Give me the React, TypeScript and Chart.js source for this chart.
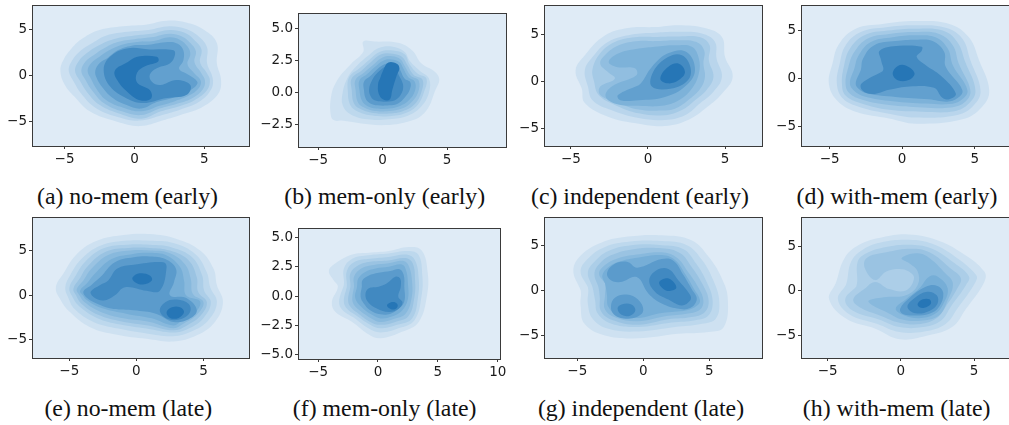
import React, { useEffect, useRef } from "react";
import { Chart, registerables } from "chart.js";
Chart.register(...registerables);

// Contour outlines: flat lists x,y,x,y,... in data units, outermost level first.
const aContours = [
  [-5.3,0.5,-5.1,1.6,-4.5,2.9,-3.7,4.0,-2.5,4.9,-0.8,5.3,0.9,5.5,2.3,5.9,3.7,5.7,5,4.9,5.9,3.5,5.9,1.3,6.2,-0.5,6,-2,4.9,-3.4,3.5,-4.2,2,-4.9,0.4,-5.5,-1.3,-5,-3.2,-3.9,-4.3,-2.3,-5,-1],
  [-4.7,0.5,-4.5,1.5,-3.9,2.6,-3,3.5,-2,4.3,-0.5,4.7,1,4.9,2.5,5.3,3.7,5.0,4.6,4.2,5.2,3,5.2,1.3,5.6,-0.3,5.5,-1.5,4.6,-2.9,3.3,-3.7,2,-4.3,0.4,-4.9,-1.2,-4.5,-2.8,-3.5,-3.8,-2,-4.3,-0.8],
  [-4.25,0.5,-4.0,1.5,-3.4,2.4,-2.6,3.2,-1.5,3.9,0,4.3,1.2,4.5,2.5,4.9,3.6,4.6,4.3,3.8,4.8,2.8,4.7,1.4,5.2,0.2,5.4,-0.5,5.2,-1.6,4.3,-2.7,3.1,-3.4,1.9,-3.9,0.5,-4.7,-1.0,-4.2,-2.5,-3.2,-3.4,-1.8,-3.9,-0.6],
  [-3.8,0.5,-3.5,1.5,-2.9,2.2,-2.2,2.9,-1.2,3.6,0,3.9,1.2,4.1,2.5,4.5,3.4,4.2,4.0,3.5,4.4,2.6,4.3,1.4,4.8,0.2,5.05,-0.6,4.9,-1.5,4.1,-2.5,3,-3.1,1.8,-3.6,0.5,-4.3,-0.9,-3.9,-2.2,-3,-3,-1.7,-3.5,-0.5],
  [-3.35,0.5,-3.1,1.3,-2.5,2.0,-1.8,2.7,-0.9,3.3,0.2,3.6,1.4,3.7,2.5,4.1,3.3,3.8,3.8,3.1,4.0,2.3,3.8,1.2,4.3,0.2,4.75,-0.6,4.6,-1.4,3.9,-2.2,2.9,-2.8,1.8,-3.3,0.5,-3.9,-0.8,-3.5,-2,-2.7,-2.7,-1.5,-3.1,-0.4],
  [-2.8,0.5,-2.5,1.3,-1.9,1.9,-1.2,2.7,-0.2,3.2,1,3.3,2.4,3.6,3.1,3.4,3.5,2.7,3.5,1.6,3.2,0.7,3.8,0.1,4.5,-0.7,4.3,-1.3,3.5,-2,2.6,-2.5,1.6,-2.9,0.5,-3.6,-0.6,-3.2,-1.6,-2.4,-2.3,-1.3,-2.7,-0.3],
  [-2.2,0.6,-1.75,2.0,-0.55,2.9,1.1,2.8,2.8,2.7,2.9,2.2,2.55,1.3,1.6,0.75,1.1,0.05,1.25,-0.7,1.85,-1.05,3.0,-0.5,4.0,-1.05,3.75,-2.1,2.1,-2.5,0.65,-3.0,-0.55,-2.5,-1.75,-1.2],
  [-1.4,0.5,-0.5,1.4,0.2,2,1.6,2,1.7,1.5,0.8,1,0.2,0.3,0.2,-0.8,1.1,-1.6,1.2,-2.5,0.4,-2.7,-0.5,-1.8,-1.2,-0.6],
];
const aLevels = [1,2,3,4,5,6,7,8];

const bContours = [
  [-4.0,-0.3,-4.0,-1.9,-3.7,-2.2,-3.2,-2.2,-0.1,-2.56,2.26,-2.2,3.4,-1.4,4.1,0.2,4.4,1.0,4.1,1.6,3.0,2.3,2.3,3.3,1.2,3.9,-0.6,4.0,-1.5,4.0,-1.5,3.2,-2.4,2.3,-3.5,1.0],
  [-3.1,0.0,-3.1,-1.0,-2.5,-1.7,-1.2,-2.1,0.5,-2.1,2,-1.8,3,-1.1,3.6,0.0,3.6,1.1,2.9,1.7,2.1,2.5,1.7,3.2,0.8,3.6,-0.3,3.5,-1.1,2.9,-2,2.1,-2.7,1.2],
  [-2.7,0.1,-2.5,-1.0,-1.9,-1.5,-0.8,-1.8,0.5,-1.85,1.8,-1.6,2.7,-1.0,3.2,0,3.4,1.1,2.7,1.5,2.1,2.2,1.7,3.0,0.8,3.3,-0.2,3.2,-1,2.6,-1.8,1.9,-2.6,1.2],
  [-2.4,0.2,-2.2,-0.9,-1.6,-1.35,-0.7,-1.6,0.5,-1.65,1.6,-1.45,2.5,-0.9,3.0,0,3.1,1.0,2.4,1.4,1.9,2.2,1.5,2.8,0.8,3.05,-0.1,3,-0.9,2.4,-1.6,1.75,-2.4,1.1],
  [-2.1,0.2,-1.9,-0.8,-1.4,-1.2,-0.6,-1.45,0.5,-1.45,1.5,-1.25,2.2,-0.8,2.75,0,2.8,0.95,2.2,1.3,1.7,2.1,1.4,2.6,0.75,2.85,0,2.75,-0.7,2.2,-1.4,1.6,-2.1,1],
  [-1.8,0.2,-1.6,-0.65,-1.2,-1.05,-0.5,-1.25,0.5,-1.25,1.35,-1.05,2,-0.65,2.5,0.1,2.5,0.85,2,1.2,1.6,1.9,1.3,2.4,0.7,2.6,0.05,2.5,-0.6,2,-1.2,1.45,-1.8,0.95],
  [-1.45,0.2,-1.3,-0.5,-0.95,-0.85,-0.4,-1,0.5,-1,1.2,-0.85,1.7,-0.4,2.1,0.2,2.15,0.8,1.7,1.1,1.4,1.7,1.15,2.15,0.65,2.3,0.1,2.2,-0.5,1.75,-1,1.25,-1.45,0.85],
  [-1.05,0.25,-0.9,-0.35,-0.5,-0.65,0.5,-0.7,1.05,-0.55,1.45,-0.1,1.6,0.5,1.45,1,1.2,1.5,1.1,2.05,0.65,2.2,0.2,2.05,-0.4,1.55,-0.8,1],
  [-0.35,0.7,-0.3,-0.1,0.05,-0.55,0.55,-0.55,0.75,0.2,1.1,1.35,1.3,1.9,1.1,2.25,0.45,2.35,0.05,1.75,-0.2,1.1],
];
const bLevels = [1,2,3,4,5,6,7,8,9];

const cContours = [
  [-4.7,1.2,-4.1,2.8,-2.8,4.9,-1.3,5.7,0.45,5.8,2.0,6.0,3.7,5.7,4.8,4.75,5.0,2.6,5.5,0.5,4.8,-1.3,3.7,-2.9,2.6,-4.1,1.1,-4.75,-0.6,-4.5,-2.6,-3.75,-4.1,-2.3,-4.3,-0.75],
  [-4.1,1.2,-3.6,2.6,-2.6,4.2,-1.05,5.0,0.45,5.2,2,5.3,3.5,5.1,4.35,4.2,4.45,2.45,4.8,0.5,4.25,-1.1,3.4,-2.3,2.4,-3.6,1.1,-4.1,-0.6,-3.9,-2.4,-3.05,-3.6,-2,-3.9,-0.55],
  [-3.6,1.3,-3.1,3,-2.15,4.2,-0.85,4.7,0.45,4.75,2,4.8,3.4,4.7,4,3.85,3.95,2.25,4.25,0.5,3.8,-0.9,3.05,-2,2.2,-3.05,1.1,-3.6,-0.6,-3.4,-2.15,-2.5,-3.2,-1.45,-3.5,0],
  [-3.1,1.9,-2.8,2.8,-1.9,3.85,-0.6,4.3,0.45,4.3,2,4.4,3.15,4.2,3.65,3.3,3.6,1.9,3.7,0.5,3.4,-0.75,2.6,-2,1.75,-2.9,0.9,-3.1,-0.6,-3,-2.15,-2.15,-3.1,-1.45,-3.1,-0.55,-2.15,0.3,-2.6,1.0],
  [-2.55,2.1,-1.9,3,-0.6,3.5,0.45,3.7,1.75,3.85,2.85,3.7,3.3,2.45,3.3,0.85,2.85,-0.75,2,-2,0.9,-2.6,-0.6,-2.6,-2.05,-2.4,-2.75,-1.6,-2.35,-0.55,-0.75,0.65,-0.85,1.4,-2.05,1.55],
  [-1.95,-1.45,-0.6,-0.4,0.25,1.55,1.3,3,2.5,3.15,3.05,1.2,2.4,-0.55,1.1,-1.65,-0.6,-2,-1.8,-2],
  [0.25,-0.55,0.35,1.05,1.3,2.6,2.2,2.8,2.75,1.55,2.6,0.15,1.55,-0.75],
  [0.8,0.3,1.3,1.55,2,1.9,2.4,1,2,0.15,1.3,-0.2],
];
const cLevels = [1,2,3,4,5,6,7,8];

const dContours = [
  [-5.05,-0.55,-4.8,1.55,-4.35,3.6,-3.2,5.2,-1.35,5.7,0.95,6,3.25,5.7,4.6,4.3,5.3,1.9,6,-1.25,5.5,-3,4.15,-4.3,0.95,-4.75,-0.9,-4.2,-3.2,-3.5,-4.5,-2.3],
  [-4.5,-0.55,-4.3,1.55,-3.9,3.45,-2.85,4.85,-1.1,5.35,0.95,5.55,3,5.3,4.15,4.15,4.7,1.9,5.4,-1.25,4.95,-2.8,3.8,-3.85,0.95,-4.1,-0.9,-3.7,-2.95,-3,-4.1,-2.1],
  [-4.15,-0.55,-4,1.35,-3.6,3.1,-2.6,4.5,-1,5,0.95,5.2,2.8,5,3.8,3.8,4.35,1.7,5.05,-1.25,4.6,-2.65,3.6,-3.45,1.4,-3.5,-0.9,-3.3,-2.85,-2.6,-3.9,-1.8],
  [-3.9,-0.55,-3.7,1.2,-3.3,2.75,-2.4,4.15,-0.9,4.65,0.95,4.85,2.55,4.65,3.5,3.45,3.9,1.55,4.7,-1.25,4.35,-2.45,3.35,-3.05,1.4,-3.05,-0.9,-2.8,-2.75,-2.25,-3.65,-1.55],
  [-3.6,-0.5,-3.3,1,-3,2.4,-2.15,3.8,-0.65,4.3,0.95,4.5,2.3,4.3,3.15,3.1,3.5,1.35,4.5,-1.25,4.05,-2.3,3.25,-2.7,1.65,-2.65,-0.65,-2.4,-2.6,-1.9,-3.35,-1.25],
  [-3.2,-0.5,-2.85,0.85,-2.7,2.05,-1.95,3.45,-0.45,3.9,0.95,4.05,2.1,3.9,2.9,2.75,3,1.2,4.15,-1.25,3.8,-2.1,3.1,-2.45,1.85,-2.2,-0.45,-1.95,-2.4,-1.6,-3,-1.1],
  [-2.8,-0.55,-1.35,0.75,-1.45,1.9,-1.55,2.9,-0.2,3.4,1.35,3.3,1.35,2.9,1,2.25,1.65,1.35,2.65,0.3,3.7,-1.6,3.25,-2.2,2.75,-2,2.2,-1,0.5,-0.85,-0.9,-1.2,-2.05,-1.65,-2.75,-1.25],
  [-0.65,0.5,-0.3,1.3,0.25,1.35,0.85,0.55,0.5,-0.15,-0.3,-0.2],
];
const dLevels = [1,2,3,4,5,6,7,8];

const eContours = [
  [-6,0.9,-5.45,2.4,-4.45,4.6,-2.95,6.1,-0.95,6.75,1,6.85,3,6.3,4.75,5,5.75,2.95,6,1.1,6.45,-0.8,5.85,-3,4.5,-4.5,2.75,-5.2,0.75,-4.9,-1.45,-4.45,-3.45,-3.6,-4.95,-1.9,-5.7,-0.4],
  [-5.3,0.9,-4.95,2.2,-4.1,4.05,-2.7,5.55,-0.85,6.1,1,6.1,2.75,5.85,4.4,4.6,5.25,2.55,5.5,0.9,6,-0.8,5.35,-2.85,4.15,-4.05,2.75,-4.6,0.75,-4.3,-1.35,-3.75,-3.2,-3,-4.6,-1.55,-5.1,-0.2],
  [-5,0.8,-4.6,2,-3.85,3.7,-2.45,5.25,-0.7,5.65,1,5.65,2.65,5.35,4.15,4.25,4.9,2.2,5.05,0.5,5.55,-0.8,5,-2.55,3.9,-3.75,2.75,-4.2,0.75,-3.75,-1.2,-3.3,-2.95,-2.55,-4.3,-1.2,-4.8,-0.1],
  [-4.7,0.7,-4.25,1.8,-3.6,3.3,-2.25,4.9,-0.6,5.3,1,5.3,2.5,5,3.9,3.9,4.5,2,4.6,0.35,5.25,-0.8,4.75,-2.35,3.7,-3.45,2.75,-3.95,0.9,-3.4,-1.1,-2.95,-2.85,-2.2,-4.1,-0.95,-4.5,0],
  [-4.45,0.65,-3.95,1.65,-3.35,2.95,-2.1,4.5,-0.45,5,1,5,2.4,4.75,3.6,3.5,4.05,1.85,4.2,0.15,5,-0.8,4.5,-2.2,3.5,-3.2,2.75,-3.7,1,-3,-0.95,-2.6,-2.7,-1.85,-3.85,-0.8,-4.25,0],
  [-4.2,0.5,-3.65,1.4,-3.1,2.4,-1.85,4.05,-0.35,4.6,1,4.75,2.25,4.45,3.25,3.15,3.55,1.65,3.7,0,4.75,-0.7,4.3,-2.1,3.4,-2.85,2.75,-3.4,1.15,-2.6,-0.7,-2.1,-2.6,-1.45,-3.65,-0.6,-4,0],
  [-3.95,0.4,-3.35,1.15,-2.7,2,-1.6,3.7,-0.2,4.25,1,4.35,2.15,4.05,2.95,2.95,2.8,1.45,2.5,0,3.75,-0.35,4.5,-1.7,3.9,-2.7,2.75,-3,1.5,-2.1,-0.2,-1.7,-1.7,-1.55,-2.7,-1.1,-3.65,-0.35],
  [-3.4,0.4,-2.7,1.15,-2.1,1.65,-1.45,2.95,-0.2,3.4,2,3.7,2.25,3.15,1.75,0.5,0.75,0.5,-0.85,0.9,-1.6,0,-2.45,-0.6,-3.2,-0.2],
  [1.75,-1.8,2.15,-0.8,3,-0.5,3.9,-1,4,-1.9,3.4,-2.65,2.4,-2.7],
  [-0.3,1.95,0.25,2.45,1,2.2,1.15,1.65,0.5,1.2,-0.1,1.45],
  [2.25,-1.9,2.65,-1.35,3.25,-1.35,3.55,-1.9,3.15,-2.55,2.5,-2.55],
];
const eLevels = [1,2,3,4,5,6,7,8,8,9,9];

const fContours = [
  [-4.1,2.15,-3.55,2.8,-2.15,3.55,-0.8,3.7,0.9,3.85,2.55,4.2,3.65,3.9,4.15,2.05,4.1,0.1,3.4,-2.2,2,-3.05,0.2,-3.6,-0.8,-3.25,-2.15,-2.2,-3.55,-1.35,-3.85,-0.5,-3.35,0.8,-3.7,1.35],
  [-3.25,-0.5,-2.85,0.95,-2.85,2.35,-2.15,3.2,-0.8,3.5,0.9,3.65,2.55,3.85,3.4,3.5,3.7,1.8,3.65,0.1,3.05,-2.05,1.7,-2.75,0.2,-3.1,-0.8,-2.75,-2,-1.85,-2.95,-1.2],
  [-2.85,-0.45,-2.6,0.8,-2.6,2.15,-1.9,2.95,-0.65,3.2,0.9,3.35,2.4,3.55,3.1,3.05,3.4,1.5,3.35,-0.05,2.85,-1.9,1.6,-2.45,0.2,-2.75,-0.65,-2.45,-1.9,-1.6,-2.6,-1.05],
  [-2.5,-0.35,-2.3,0.8,-2.3,1.95,-1.6,2.65,-0.5,2.95,0.9,3.05,2.3,3.25,2.9,2.8,3.1,1.35,3.05,-0.05,2.55,-1.7,1.45,-2.2,0.2,-2.45,-0.65,-2.2,-1.75,-1.4,-2.3,-0.9],
  [-2.15,-0.25,-2,0.8,-2,1.65,-1.4,2.35,-0.35,2.65,0.9,2.8,2.15,3,2.6,2.5,2.85,1.2,2.8,-0.2,2.3,-1.5,1.3,-1.95,0.2,-2.2,-0.55,-1.9,-1.55,-1.2,-2,-0.75],
  [-1.9,-0.15,-1.75,0.8,-1.65,1.5,-1.1,2.05,-0.2,2.35,0.9,2.5,2,2.7,2.35,2.2,2.5,1.1,2.5,-0.25,2,-1.25,1.15,-1.75,0.2,-1.9,-0.5,-1.6,-1.4,-0.9],
  [-1.45,-0.05,-1.35,0.8,-1.3,1.35,-0.8,1.75,0.05,2,1.05,2.15,1.8,2.3,2.15,1.8,2.2,0.8,2.2,-0.45,1.7,-1.1,1.05,-1.5,0.2,-1.55,-0.65,-1.2,-1.2,-0.6],
  [-1.05,0.1,-0.8,0.65,0.05,0.8,0.75,1.1,1.45,1.65,1.85,1.5,1.9,0.8,1.7,-0.05,2.05,-0.55,1.7,-1.1,0.9,-1.35,-0.1,-1.05,-0.8,-0.55],
  [0.75,-0.8,1.05,-0.55,1.45,-0.55,1.65,-0.8,1.45,-1.1,1.05,-1.1],
];
const fLevels = [1,2,3,4,5,6,7,8,9];

const gContours = [
  [-5.3,2.25,-4.7,3.95,-3.15,5.35,-1.15,6,1.4,6.15,3.65,5.6,4.95,3.75,5.95,1.35,6.4,-0.9,6.1,-4.05,4.95,-4.6,2.65,-4.8,-0.4,-5.3,-2.9,-5,-4.45,-3.7,-4.75,-1.65,-4.75,0.05],
  [-4.75,2.15,-4.2,3.55,-2.9,4.85,-1,5.45,1.4,5.5,3.3,5.05,4.45,3.4,5.3,1.15,5.75,-1.1,5.5,-3.1,4.45,-3.7,2.4,-4.05,-0.4,-4.55,-2.65,-4.25,-3.85,-3.1,-4.2,-1.45,-4.2,0.4],
  [-4.2,2,-3.7,3.2,-2.65,4.4,-0.9,5.05,1.4,5.05,3.05,4.6,4,3,4.8,0.95,5.25,-1.1,4.95,-2.75,3.95,-3.3,2.15,-3.55,-0.4,-4.05,-2.4,-3.7,-3.45,-2.55,-3.65,-1.1,-3.85,0.4],
  [-3.7,1.9,-3.3,3,-2.4,3.95,-0.75,4.6,1.4,4.7,2.8,4.15,3.65,2.65,4.45,0.8,4.95,-1.1,4.65,-2.4,3.65,-2.95,1.9,-3.2,-0.4,-3.8,-2.3,-3.3,-3.2,-2.3,-3.3,-0.7,-3.4,0.4],
  [-3.35,1.9,-2.9,2.85,-2,3.55,-0.5,4,1.4,4.25,2.55,3.65,3.35,2.15,4.15,0.4,4.55,-1.1,4.3,-2.1,3.4,-2.55,1.65,-2.85,-0.4,-3.4,-2,-3.05,-2.9,-2.1,-2.9,-0.5,-2.9,0.8],
  [-3.1,1.7,-2.6,2.65,-1.75,3.25,-0.45,3.65,1.4,3.95,2.4,3.4,3.15,1.9,3.85,0.15,4.3,-1.1,4.05,-1.7,3.3,-2.2,1.4,-2.5,-0.4,-3.05,-1.9,-2.75,-2.65,-1.8,-2.75,-0.5,-2.9,0.8],
  [-2.75,1.9,-2.3,2.85,-1.25,3.2,-0.45,2.55,1.4,3.5,2.3,3.3,3.05,1.7,3.65,0.2,4.05,-0.95,3.55,-1.95,2.55,-2,1.4,-1.45,0.4,-0.35,-0.5,1.5,-1.75,0.95,-2.45,1.15],
  [-2.45,-1.8,-2.15,-0.8,-1.25,-0.45,-0.4,-1,0,-2.2,-0.5,-2.95,-1.5,-3.1,-2.2,-2.7],
  [0.45,1.15,1,2.25,1.9,2.4,2.65,1.15,3.55,-0.5,3.55,-1.1,2.9,-1.65,1.9,-1,0.9,-0.15],
  [-1.95,-2,-1.65,-1.55,-0.9,-1.55,-0.6,-2.2,-1,-2.8,-1.65,-2.7],
  [1.2,0.9,1.65,1.35,2.15,1.15,2.5,0.3,2,-0.05,1.5,0.2],
];
const gLevels = [1,2,3,4,5,6,7,7,8,8,9];

const hContours = [
  [-4.9,-0.95,-4.45,0.85,-3.85,3.65,-2.85,5.15,-1.25,6,0.55,6.3,2.4,5.7,4.2,4.2,5.7,2.15,5.7,1,4.45,-2,3.5,-4.05,1.7,-5.05,-0.1,-5.4,-1.7,-4.25,-3.75,-3.1],
  [-4.3,-0.95,-3.75,0.65,-3.4,3.25,-2.6,4.6,-1.25,5.45,0.55,5.7,2.15,5.25,3.85,3.65,5.15,1.75,5.1,1,3.85,-2,3.05,-3.7,1.6,-4.55,-0.1,-4.6,-1.6,-3.7,-3.5,-2.65],
  [-3.8,-0.95,-3.05,0.45,-2.95,3.25,-2.35,4.2,-1,4.9,0.55,5.15,2.05,4.75,3.65,3.1,4.65,1.6,4.45,0.65,3.4,-1.8,2.75,-3.3,1.5,-4.05,-0.1,-4.05,-1.5,-3.2,-3.3,-2.2],
  [-3.25,-0.95,-2.5,0.2,-1.75,1,-0.8,0.2,0.35,0.05,0.9,1.4,0.55,2.15,-0.1,2.45,-1,2.15,-1.75,1.2,-2.45,2.5,-2.35,3.65,-1,4.3,0.7,4.7,1.95,4.3,3.4,2.5,4.1,1.4,3.85,0.25,3.05,-1.8,2.4,-3.1,1.35,-3.7,-0.1,-3.55,-1.35,-2.8,-2.85,-1.8],
  [-2.2,-1.1,-1,-0.7,0.35,-0.5,1.15,0.65,1.15,2.15,0.55,3.1,0.05,3.65,1,4.2,1.8,3.85,3.05,1.95,3.55,0.85,3.2,-1.05,2.6,-2.75,1.5,-3.3,0.1,-3.2,-1,-2.35,-1.95,-1.6],
  [-0.35,-2,0.35,-0.95,1.25,0.25,1.95,1.6,2.5,1.6,3.2,0.25,2.85,-1.6,2.25,-2.65,1.25,-3.05,0.25,-2.75],
  [-0.05,-2,0.55,-0.85,1.7,0.45,2.5,0.55,2.9,-0.3,2.6,-1.8,1.95,-2.55,0.9,-2.75,0.1,-2.55],
  [0.45,-1.8,0.9,-0.85,1.8,-0.1,2.45,-0.5,2.5,-1.45,1.95,-2.25,1,-2.5],
  [1.15,-1.45,1.5,-0.95,1.95,-0.95,2.05,-1.45,1.6,-1.9,1.25,-1.8],
];
const hLevels = [1,2,3,4,5,6,7,8,9];

const wholeTicks = [-5, 0, 5];
const wideTicks = [-5, 0, 5, 10];
const bYTicks = [-2.5, 0, 2.5, 5];
const fYTicks = [-5, -2.5, 0, 2.5, 5];

const captions = [
  "(a) no-mem (early)", "(b) mem-only (early)", "(c) independent (early)", "(d) with-mem (early)",
  "(e) no-mem (late)", "(f) mem-only (late)", "(g) independent (late)", "(h) with-mem (late)",
];

type Panel = {
  contours: number[][]; levels: number[];
  xLim: [number, number]; yLim: [number, number];
  xTicks: number[]; yTicks: number[];
  area: [number, number, number, number]; // left, right, top, bottom in page pixels
  capX: number; capY: number;
};

const panels: Panel[] = [
  { contours: aContours, levels: aLevels, xLim: [-7.33, 8.2], yLim: [-7.65, 7.6], xTicks: wholeTicks, yTicks: wholeTicks, area: [32, 249, 5, 146], capX: 127.5, capY: 195.5 },
  { contours: bContours, levels: bLevels, xLim: [-6.57, 9.58], yLim: [-4.27, 6.24], xTicks: wholeTicks, yTicks: bYTicks, area: [298, 506, 13, 147], capX: 384.7, capY: 195.5 },
  { contours: cContours, levels: cLevels, xLim: [-6.75, 7.4], yLim: [-6.88, 8.15], xTicks: wholeTicks, yTicks: wholeTicks, area: [544, 762, 5, 146], capX: 640, capY: 195.5 },
  { contours: dContours, levels: dLevels, xLim: [-6.97, 7.57], yLim: [-7.09, 7.68], xTicks: wholeTicks, yTicks: wholeTicks, area: [801, 1012, 5, 146], capX: 897, capY: 195.5 },
  { contours: eContours, levels: eLevels, xLim: [-7.78, 8.39], yLim: [-7.05, 8.77], xTicks: wholeTicks, yTicks: wholeTicks, area: [32, 249, 217, 358], capX: 128.3, capY: 407.5 },
  { contours: fContours, levels: fLevels, xLim: [-6.68, 10.19], yLim: [-5.37, 5.82], xTicks: wideTicks, yTicks: fYTicks, area: [298, 500, 228, 359], capX: 384.7, capY: 407.5 },
  { contours: gContours, levels: gLevels, xLim: [-7.52, 8.99], yLim: [-7.5, 8.18], xTicks: wholeTicks, yTicks: wholeTicks, area: [544, 762, 217, 358], capX: 641, capY: 407.5 },
  { contours: hContours, levels: hLevels, xLim: [-6.82, 7.59], yLim: [-7.5, 8.25], xTicks: wholeTicks, yTicks: wholeTicks, area: [801, 1012, 217, 358], capX: 896.7, capY: 407.5 },
];

const RAMP: [number, number, number][] = [
  [223, 235, 246], [172, 206, 232], [118, 174, 215], [38, 118, 182],
];
function rampColor(t: number) {
  const p = Math.min(0.9999, t) * (RAMP.length - 1);
  const i = Math.floor(p);
  const f = p - i;
  const c = RAMP[i].map((v, k) => Math.round(v + (RAMP[i + 1][k] - v) * f));
  return `rgb(${c[0]},${c[1]},${c[2]})`;
}
// The outline is traced with an overlap at its seam, so the smoothing has no cusp where it closes.
const toPoints = (flat: number[]) => {
  const n = flat.length;
  const pts: { x: number; y: number }[] = [{ x: flat[n - 2], y: flat[n - 1] }];
  for (let i = 0; i < n; i += 2) pts.push({ x: flat[i], y: flat[i + 1] });
  pts.push({ x: flat[0], y: flat[1] }, { x: flat[2], y: flat[3] });
  return pts;
};

const LEFT = 44, BOTTOM = 26, TOP = 2, RIGHT = 8;
const SPINE = "#3a3a3a";
const fmt = (ticks: number[]) => (v: any) => {
  const s = ticks.every(Number.isInteger) ? String(Math.abs(v)) : Math.abs(v).toFixed(1);
  return v < 0 ? "\u2212" + s : s;
};
const noPad = (s: any) => { s.paddingLeft = 0; s.paddingRight = 0; s.paddingTop = 0; s.paddingBottom = 0; };

function PanelChart({ p }: { p: Panel }) {
  const ref = useRef<HTMLCanvasElement>(null);
  const [l, r, t, b] = p.area;
  const w = r - l + LEFT + RIGHT;
  const h = b - t + TOP + BOTTOM;
  useEffect(() => {
    const maxLevel = Math.max(...p.levels);
    const [x0, x1] = p.xLim;
    const [y0, y1] = p.yLim;
    const datasets: any[] = [
      {
        data: [{ x: x0, y: y0 }, { x: x1, y: y0 }, { x: x1, y: y1 }, { x: x0, y: y1 }, { x: x0, y: y0 }],
        showLine: true, fill: "shape", backgroundColor: rampColor(0), borderWidth: 0, pointRadius: 0, tension: 0, order: 100,
      },
      ...p.contours.map((flat, i) => ({
        data: toPoints(flat), showLine: true, fill: "shape",
        backgroundColor: rampColor(p.levels[i] / maxLevel),
        borderWidth: 0, pointRadius: 0, tension: 0.4, order: 99 - i,
      })),
    ];
    const spineAxis = (position: string, size: "width" | "height") => ({
      position, ticks: { display: false }, grid: { display: false, drawTicks: false },
      border: { display: true, color: SPINE, width: 1, z: 2 },
      afterFit: (s: any) => { s[size] = 0; noPad(s); },
    });
    const tickOpts = (ticks: number[]) => ({
      callback: fmt(ticks), autoSkip: false, maxRotation: 0, padding: 2,
      color: "#1a1a1a", font: { family: "DejaVu Sans", size: 13.5 },
    });
    const gridOpts = { display: true, drawOnChartArea: false, drawTicks: true, tickLength: 3, tickColor: SPINE };
    const chart = new Chart(ref.current as HTMLCanvasElement, {
      type: "scatter",
      data: { datasets },
      options: {
        animation: false, responsive: false, devicePixelRatio: 1,
        layout: { padding: { top: TOP, right: RIGHT, left: 0, bottom: 0 } },
        plugins: { legend: { display: false }, tooltip: { enabled: false }, filler: { propagate: false } },
        elements: { line: { capBezierPoints: false } },
        scales: {
          x: {
            type: "linear", min: x0, max: x1, position: "bottom",
            afterBuildTicks: (s: any) => { s.ticks = p.xTicks.map((value) => ({ value })); },
            afterFit: (s: any) => { s.height = BOTTOM; noPad(s); },
            ticks: tickOpts(p.xTicks), grid: gridOpts,
            border: { display: true, color: SPINE, width: 1, z: 2 },
          },
          y: {
            type: "linear", min: y0, max: y1, position: "left",
            afterBuildTicks: (s: any) => { s.ticks = p.yTicks.map((value) => ({ value })); },
            afterFit: (s: any) => { s.width = LEFT; noPad(s); },
            ticks: tickOpts(p.yTicks), grid: gridOpts,
            border: { display: true, color: SPINE, width: 1, z: 2 },
          },
          xTop: spineAxis("top", "height"),
          yRight: spineAxis("right", "width"),
        },
      } as any,
    });
    return () => chart.destroy();
  }, [p]);
  return (
    <canvas ref={ref} width={w} height={h}
      style={{ position: "absolute", left: l - LEFT, top: t - TOP, width: w, height: h }} />
  );
}

export default function App() {
  return (
    <div style={{ position: "fixed", left: 0, top: 0, width: 1009, height: 425, overflow: "hidden", background: "#fff" }}>
      {panels.map((p, i) => <PanelChart key={i} p={p} />)}
      {panels.map((p, i) => (
        <div key={"c" + i} style={{
          position: "absolute", left: p.capX - 150, top: p.capY - 14, width: 300, height: 28, lineHeight: "28px",
          textAlign: "center", fontFamily: "'Liberation Serif', serif", fontSize: 23.8, color: "#111", whiteSpace: "nowrap",
        }}>{captions[i]}</div>
      ))}
    </div>
  );
}
